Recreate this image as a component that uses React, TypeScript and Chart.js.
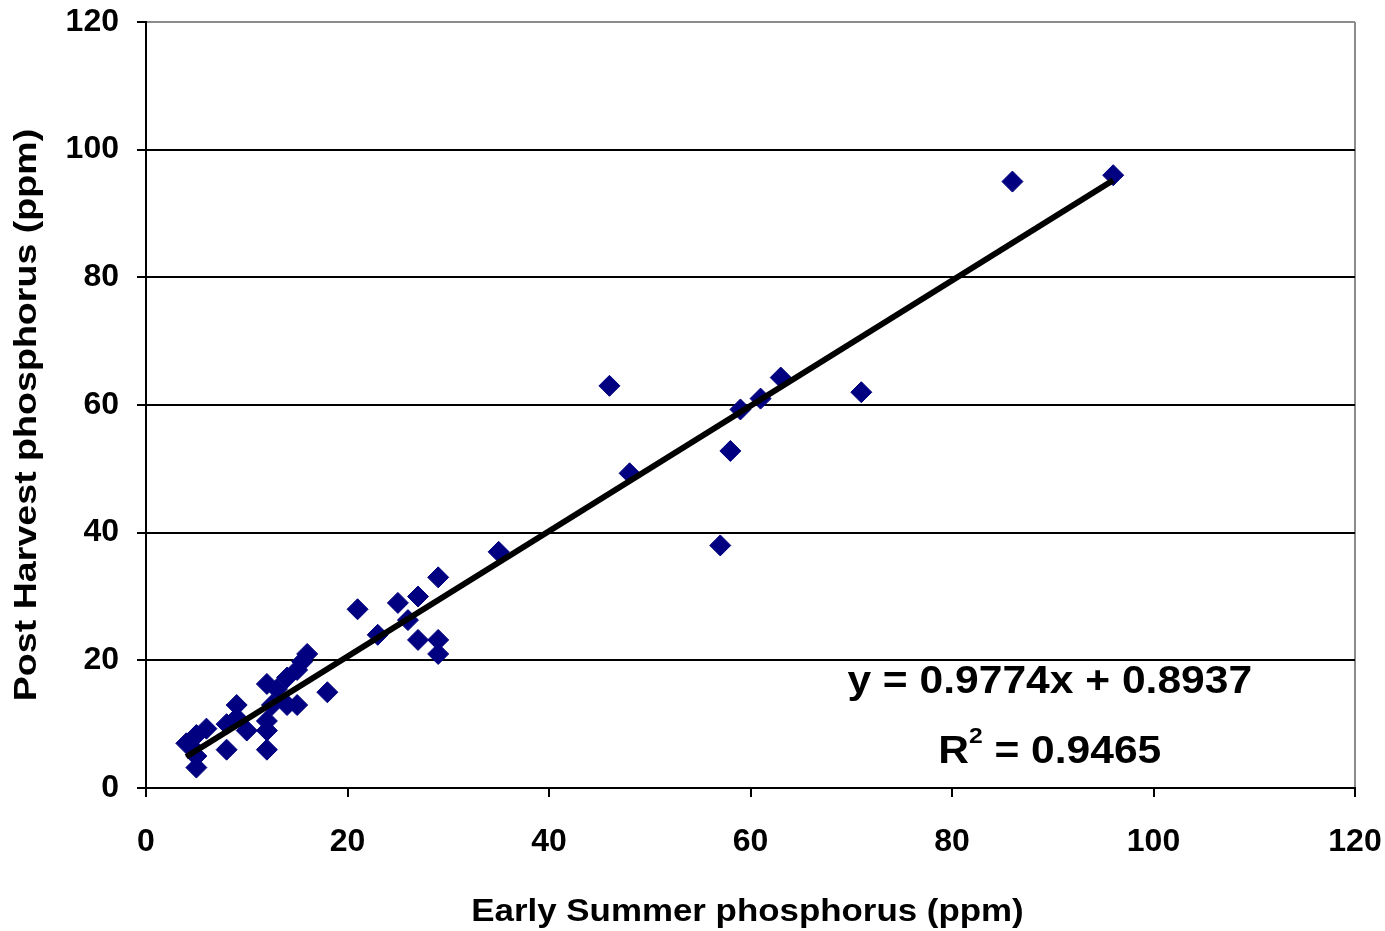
import React, { useEffect, useRef } from "react";
import { Chart, registerables } from "chart.js";

Chart.register(...registerables);

const earlySummer = [4, 4.5, 5, 5, 5, 6, 8, 8, 9, 9, 10, 12, 12, 12, 12, 12.5, 13, 14, 14, 15, 15, 15.5, 16, 18, 21, 23, 25, 26, 27, 27, 29, 29, 29, 35, 46, 48, 57, 58, 59, 61, 63, 71, 86, 96];
const postHarvest = [7, 6.5, 8.3, 5, 3.2, 9.3, 6, 10, 11, 13, 9, 16.3, 10.5, 9, 6, 13, 15.5, 13, 17.3, 18.5, 13, 19.8, 21, 15, 28, 24, 29, 26.3, 30, 23.2, 33, 23.2, 21, 37, 63, 49.3, 38, 52.8, 59.3, 61, 64.3, 62, 95, 96];

const trendX = [4, 96];
const trendY = [4.9, 95.2];

const xTicks = [0, 20, 40, 60, 80, 100, 120];
const yTicks = [0, 20, 40, 60, 80, 100, 120];

const xTitle = "Early Summer phosphorus (ppm)";
const yTitle = "Post Harvest phosphorus (ppm)";

const eqLine1 = "y = 0.9774x + 0.8937";
const eqLine2Prefix = "R";
const eqLine2Sup = "2";
const eqLine2Rest = " = 0.9465";
const eqPos = { x: 89.7, y1: 16.6, y2: 5.6 };

const FONT = "'Liberation Sans', Arial, sans-serif";

function drawStretched(ctx: any, text: string, cx: number, cy: number, sx: number, rot: number) {
  ctx.save();
  ctx.translate(cx, cy);
  ctx.rotate(rot);
  ctx.scale(sx, 1);
  ctx.textAlign = "center";
  ctx.textBaseline = "middle";
  ctx.fillText(text, 0, 0);
  ctx.restore();
}

const textPlugin = {
  id: "customText",
  afterDraw(chart: any) {
    const ctx = chart.ctx;
    const xs = chart.scales.x;
    const ys = chart.scales.y;
    ctx.save();
    ctx.fillStyle = "#000";
    // axis titles
    ctx.font = `bold 32px ${FONT}`;
    drawStretched(ctx, xTitle, (xs.left + xs.right) / 2 - 3, chart.height - 19, 1.09, 0);
    drawStretched(ctx, yTitle, 27, (ys.top + ys.bottom) / 2 + 10, 1.175, -Math.PI / 2);

    // equation
    const cx = xs.getPixelForValue(eqPos.x);
    const cy1 = ys.getPixelForValue(eqPos.y1);
    const cy2 = ys.getPixelForValue(eqPos.y2);
    const sx = 1.12;
    ctx.font = `bold 38px ${FONT}`;
    drawStretched(ctx, eqLine1, cx, cy1, sx, 0);

    const big = `bold 38px ${FONT}`;
    const small = `bold 22px ${FONT}`;
    ctx.font = big;
    const wR = ctx.measureText(eqLine2Prefix).width;
    const wRest = ctx.measureText(eqLine2Rest).width;
    ctx.font = small;
    const wSup = ctx.measureText(eqLine2Sup).width;
    const total = wR + wSup + wRest;
    ctx.translate(cx, cy2);
    ctx.scale(sx, 1);
    let x0 = -total / 2;
    ctx.textAlign = "left";
    ctx.textBaseline = "middle";
    ctx.font = big;
    ctx.fillText(eqLine2Prefix, x0, 0);
    x0 += wR;
    ctx.font = small;
    ctx.fillText(eqLine2Sup, x0, -15);
    x0 += wSup;
    ctx.font = big;
    ctx.fillText(eqLine2Rest, x0, 0);
    ctx.restore();
  },
};

export default function App() {
  const ref = useRef<HTMLCanvasElement>(null);
  useEffect(() => {
    if (!ref.current) return;
    const points = earlySummer.map((x, i) => ({ x, y: postHarvest[i] }));
    const trend = trendX.map((x, i) => ({ x, y: trendY[i] }));
    const chart = new Chart(ref.current, {
      type: "scatter",
      data: {
        datasets: [
          {
            type: "line",
            label: "Trend",
            data: trend,
            borderColor: "#000",
            borderWidth: 6,
            pointRadius: 0,
            fill: false,
            order: 0,
          } as any,
          {
            label: "Data",
            data: points,
            pointStyle: "rectRot",
            pointRadius: 10.5,
            pointHoverRadius: 10.5,
            backgroundColor: "#000080",
            borderColor: "#000080",
            borderWidth: 1,
            order: 1,
          },
        ],
      },
      options: {
        responsive: false,
        animation: false,
        layout: { padding: { left: 0, top: 22, right: 30, bottom: 0 } },
        plugins: {
          legend: { display: false },
          tooltip: { enabled: false },
        },
        scales: {
          x: {
            type: "linear",
            min: 0,
            max: 120,
            afterBuildTicks: (s: any) => {
              s.ticks = xTicks.map((v) => ({ value: v }));
            },
            afterFit: (s: any) => {
              s.height = 143;
              s.paddingLeft = 0;
              s.paddingRight = 0;
            },
            ticks: {
              color: "#000",
              font: { family: FONT, size: 32, weight: "bold" },
              padding: 26,
              maxRotation: 0,
            },
            grid: {
              color: (c: any) => (c.tick && c.tick.value === 120 ? "#8c8c8c" : "rgba(0,0,0,0)"),
              tickColor: "#000",
              tickLength: 9,
              lineWidth: 2,
            },
            border: { color: "#000", width: 2 },
            title: { display: false },
          },
          y: {
            type: "linear",
            min: 0,
            max: 120,
            afterBuildTicks: (s: any) => {
              s.ticks = yTicks.map((v) => ({ value: v }));
            },
            afterFit: (s: any) => {
              s.width = 146;
              s.paddingTop = 0;
              s.paddingBottom = 0;
            },
            ticks: {
              color: "#000",
              font: { family: FONT, size: 32, weight: "bold" },
              padding: 18,
            },
            grid: {
              color: (c: any) => (c.tick && c.tick.value === 120 ? "#8c8c8c" : "#000"),
              tickColor: "#000",
              tickLength: 9,
              lineWidth: 2,
            },
            border: { color: "#000", width: 2 },
            title: { display: false },
          },
        },
      },
      plugins: [textPlugin],
    });
    return () => chart.destroy();
  }, []);
  return (
    <div style={{ position: "absolute", left: 0, top: 0, width: 1385, height: 931, background: "#fff" }}>
      <canvas ref={ref} width={1385} height={931} style={{ width: 1385, height: 931, display: "block" }} />
    </div>
  );
}
